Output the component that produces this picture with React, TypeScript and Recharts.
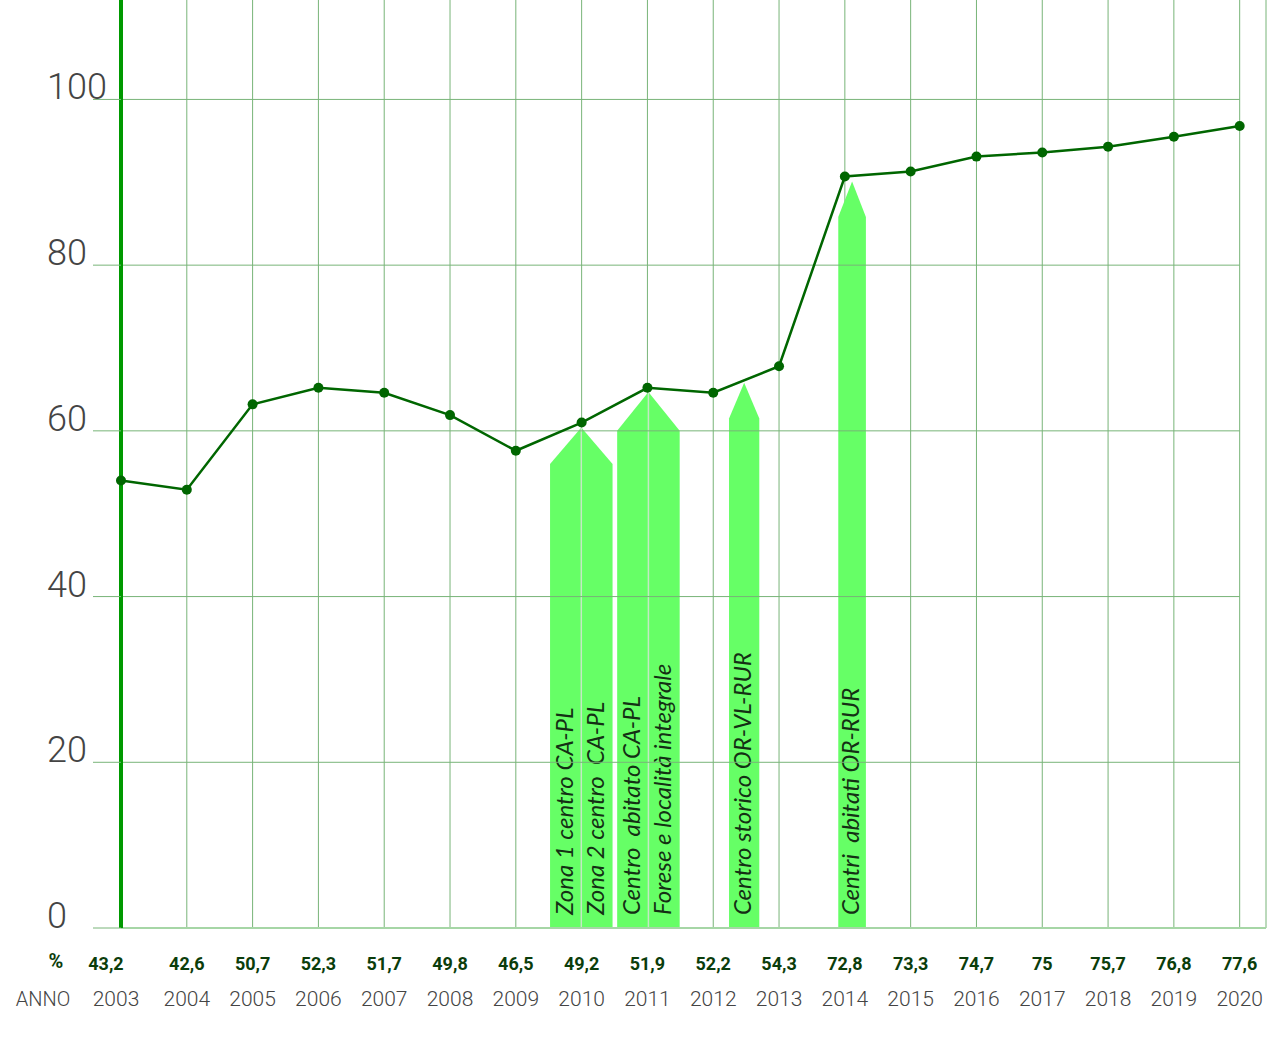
import { CartesianGrid, Line, LineChart, ReferenceArea, ReferenceLine, XAxis, YAxis } from 'recharts';

const years = [2003, 2004, 2005, 2006, 2007, 2008, 2009, 2010, 2011, 2012, 2013, 2014, 2015, 2016, 2017, 2018, 2019, 2020];
const lineValues = [54.0, 52.9, 63.2, 65.2, 64.6, 61.9, 57.6, 61.0, 65.2, 64.6, 67.8, 90.7, 91.3, 93.1, 93.6, 94.3, 95.5, 96.8];
const percentLabels = ["43,2", "42,6", "50,7", "52,3", "51,7", "49,8", "46,5", "49,2", "51,9", "52,2", "54,3", "72,8", "73,3", "74,7", "75", "75,7", "76,8", "77,6"];
const yTicks = [0, 20, 40, 60, 80, 100];

// arrows (x in years, y in chart units)
const arrowStart = [2009.52, 2010.54, 2012.24, 2013.9];
const arrowEnd = [2010.47, 2011.49, 2012.7, 2014.32];
const arrowTop = [60.4, 64.7, 65.8, 90.1];
const arrowShoulder = [56.0, 60.0, 61.5, 85.8];
const arrowLabels = [
    ["Zona 1 centro CA-PL", "Zona 2 centro  CA-PL"],
    ["Centro  abitato CA-PL", "Forese e località integrale"],
    ["Centro storico OR-VL-RUR"],
    ["Centri  abitati OR-RUR"],
];

const data = years.map((year, i) => ({ year, value: lineValues[i] }));

const arrows = arrowStart.map((x1, i) => ({
    x1,
    x2: arrowEnd[i],
    top: arrowTop[i],
    shoulder: arrowShoulder[i],
    labels: arrowLabels[i],
}));

const gridColor = "#78b478";

const Arrow = (props: any) => {
    const { x, y, width, height, arrow } = props;
    const head = height * (arrow.top - arrow.shoulder) / arrow.top;
    const pts = [
        [x, y + head],
        [x + width / 2, y],
        [x + width, y + head],
        [x + width, y + height],
        [x, y + height],
    ].map(p => p.join(",")).join(" ");
    const n = arrow.labels.length;
    const colW = width / n;
    const baseY = y + height - 13;
    return (
        <g>
            <polygon points={pts} fill="#66ff66" />
            {arrow.labels.slice(1).map((_: string, i: number) => (
                <line key={i} x1={x + (i + 1) * colW} x2={x + (i + 1) * colW} y1={y} y2={y + height}
                    stroke="#c4e8c4" strokeWidth={1.5} />
            ))}
            {arrow.labels.map((t: string, i: number) => {
                const cx = x + (i + 0.5) * colW;
                return (
                    <text key={t} x={cx} y={baseY} dy={7} transform={`rotate(-90 ${cx} ${baseY})`}
                        fontFamily="Lato" fontStyle="italic" fontWeight={400} fontSize={24}
                        fill="#143014" textAnchor="start" style={{ whiteSpace: 'pre' }}>
                        {t}
                    </text>
                );
            })}
        </g>
    );
};

const XTick = (props: any) => {
    const { x, y, payload, index } = props;
    const shift = index === 0 ? -15 : 0;
    const yearShift = index === 0 ? -5 : 0;
    return (
        <g>
            {index === 0 && (
                <>
                    <text x={x - 65} y={y + 40} textAnchor="middle" fontFamily="Roboto" fontWeight={700}
                        fontSize={20} fill="#0b3d0b">%</text>
                    <text x={x - 78} y={y + 78} textAnchor="middle" fontFamily="Roboto" fontWeight={300}
                        fontSize={20} fill="#444">ANNO</text>
                </>
            )}
            <text x={x + shift} y={y + 42} textAnchor="middle" fontFamily="Roboto" fontWeight={700}
                fontSize={18} fill="#0b3d0b">{percentLabels[index]}</text>
            <text x={x + yearShift} y={y + 78} textAnchor="middle" fontFamily="Roboto" fontWeight={300}
                fontSize={21} fill="#444">{payload.value}</text>
        </g>
    );
};

const YTick = (props: any) => {
    const { x, y, payload } = props;
    return (
        <text x={x - 44} y={y} textAnchor="start" fontFamily="Roboto" fontWeight={300}
            fontSize={36} fill="#444">{payload.value}</text>
    );
};

const App = () => {
    return (
        <div style={{ position: 'absolute', left: 0, top: 0, width: 1281, height: 1038, background: '#fff' }}>
            <LineChart width={1281} height={1038} data={data} margin={{ top: 0, right: 15, left: 0, bottom: 0 }}>
                <CartesianGrid horizontal={false} stroke={gridColor} />
                <XAxis
                    dataKey="year"
                    type="number"
                    domain={[2003, 2020.4]}
                    ticks={years}
                    height={110}
                    tickSize={0}
                    tickMargin={0}
                    tickLine={false}
                    axisLine={{ stroke: "#a6d6a6", strokeWidth: 2 }}
                    tick={(p: any) => <XTick {...p} />}
                    interval={0}
                />
                <YAxis
                    domain={[0, 112]}
                    ticks={yTicks}
                    width={121}
                    tickSize={28}
                    tickLine={{ stroke: gridColor }}
                    axisLine={{ stroke: "#009900", strokeWidth: 4 }}
                    tick={(p: any) => <YTick {...p} />}
                    interval={0}
                />
                {yTicks.filter(v => v > 0).map(v => (
                    <ReferenceLine key={v} segment={[{ x: 2003, y: v }, { x: 2020, y: v }]} stroke={gridColor} />
                ))}
                {arrows.map((a, i) => (
                    <ReferenceArea key={i} x1={a.x1} x2={a.x2} y1={0} y2={a.top}
                        shape={(p: any) => <Arrow {...p} arrow={a} />} />
                ))}
                <Line
                    dataKey="value"
                    stroke="#006600"
                    strokeWidth={2.5}
                    dot={{ r: 5, fill: "#006600", stroke: "#006600", strokeWidth: 0 }}
                    isAnimationActive={false}
                />
            </LineChart>
        </div>
    );
};

export default App;
